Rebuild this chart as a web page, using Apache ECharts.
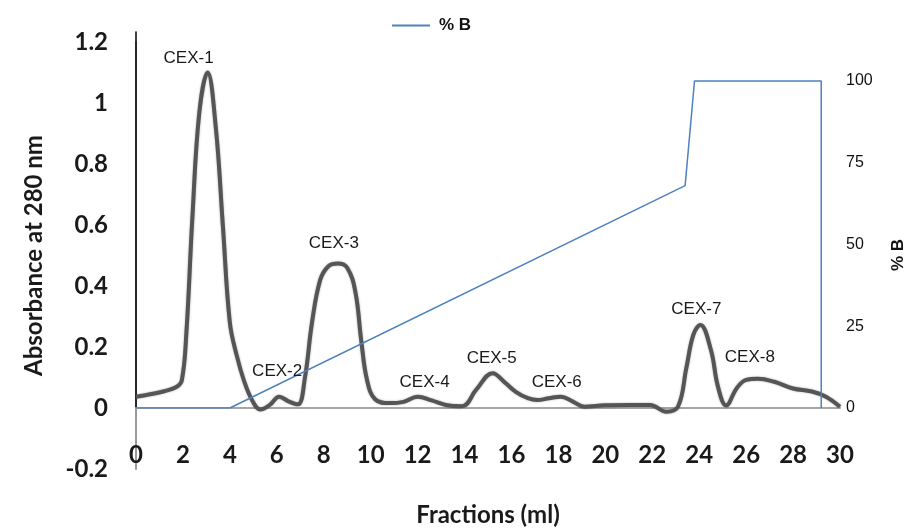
<!DOCTYPE html>
<html>
<head>
<meta charset="utf-8">
<title>CEX chromatogram</title>
<script src="https://cdn.jsdelivr.net/npm/echarts@6/dist/echarts.min.js"></script>
<style>
  html, body { margin: 0; padding: 0; background: #ffffff; }
  #chart { width: 910px; height: 531px; }
</style>
</head>
<body>
<div id="chart"></div>
<script>
// Elution volume (ml) and absorbance at 280 nm
const fractions = [0, 0.6, 1.2, 1.7, 1.95, 2.15, 2.4, 2.7, 3.05, 3.4, 3.7, 4.0, 4.3, 4.6, 4.95, 5.3,
  5.7, 6.1, 6.5, 6.9, 7.2, 7.5, 7.85, 8.2, 8.6, 9.0, 9.35, 9.6, 9.85, 10.2, 10.8, 11.4, 12.0,
  12.6, 13.2, 13.9, 14.5, 15.2, 15.7, 16.2, 16.7, 17.1, 17.6, 18.1, 18.6, 19.1, 20.0, 21.0,
  21.9, 22.6, 23.1, 23.45, 23.75, 24.05, 24.5, 24.8, 25.15, 25.6, 26.0, 26.5, 27.2, 28.0,
  28.8, 29.4, 30.0];
const absorbance = [0.037, 0.045, 0.055, 0.068, 0.09, 0.25, 0.62, 0.97, 1.10, 0.92, 0.6, 0.28,
  0.17, 0.09, 0.025, -0.005, 0.01, 0.037, 0.022, 0.012, 0.1, 0.28, 0.42, 0.465, 0.474, 0.46,
  0.38, 0.22, 0.09, 0.028, 0.016, 0.02, 0.037, 0.025, 0.01, 0.006, 0.06, 0.114, 0.085, 0.052,
  0.032, 0.026, 0.032, 0.037, 0.022, 0.004, 0.009, 0.01, 0.01, -0.012, 0.005, 0.13, 0.24,
  0.272, 0.19, 0.07, 0.008, 0.065, 0.092, 0.096, 0.086, 0.064, 0.054, 0.037, 0.004];

// Buffer B gradient program
const gradientMl = [0, 4, 23.4, 23.8, 29.2, 29.2];
const gradientB = [0, 0, 68, 100, 100, 0];

// Collected peaks
const peakNames = ['CEX-1', 'CEX-2', 'CEX-3', 'CEX-4', 'CEX-5', 'CEX-6', 'CEX-7', 'CEX-8'];
const peakAt = [3.05, 6.1, 8.6, 12.0, 15.2, 18.1, 24.05, 26.5];

// Axis ticks
const absTicks = { min: -0.2, max: 1.2, step: 0.2 };
const mlTicks = { min: 0, max: 30, step: 2 };
const bTicks = { min: 0, max: 115, step: 25 };

// Placement of each peak caption relative to its apex (px)
const captionOffsets = [[-19, -14], [-2, -25], [-4, -20], [7, -14], [-1, -15], [-4, -14], [-4, -16], [-8, -21]];

const absData = fractions.map((x, i) => [x, absorbance[i]]);
const gradData = gradientMl.map((x, i) => [x, gradientB[i]]);
const peakMarks = peakNames.map((name, i) => ({
  name: name,
  coord: [peakAt[i], absorbance[fractions.indexOf(peakAt[i])]],
  label: { offset: captionOffsets[i] }
}));

const boldFont = 'Lato';
const gradientColor = '#4f81bd';
const chart = echarts.init(document.getElementById('chart'), null, { renderer: 'canvas' });

chart.setOption({
  animation: false,
  backgroundColor: '#ffffff',
  legend: {
    data: [{ name: '% B', icon: 'rect' }],
    top: 12,
    left: 387,
    itemWidth: 38,
    itemHeight: 2,
    itemStyle: { color: gradientColor },
    textStyle: { fontFamily: 'Liberation Sans', fontWeight: 'bold', fontSize: 17, color: '#111', padding: [0, 0, 0, 4] }
  },
  grid: [
    { left: 136, right: 70, top: 42, bottom: 62, containLabel: false, outerBoundsMode: 'none' },
    { left: 136, right: 70, top: 32, bottom: 123, containLabel: false, outerBoundsMode: 'none' }
  ],
  xAxis: [
    {
      type: 'value', gridIndex: 0,
      min: mlTicks.min, max: mlTicks.max, interval: mlTicks.step,
      axisLine: { onZero: true, lineStyle: { color: '#a6a6a6', width: 2 } },
      axisTick: { show: false },
      splitLine: { show: false },
      axisLabel: { margin: -26, fontFamily: boldFont, fontWeight: 'bold', fontSize: 24, color: '#1a1a1a' },
      name: 'Fractions (ml)',
      nameLocation: 'middle',
      nameGap: 34,
      nameTextStyle: { fontFamily: boldFont, fontWeight: 'bold', fontSize: 24, color: '#1a1a1a' }
    },
    {
      type: 'value', gridIndex: 1,
      min: mlTicks.min, max: mlTicks.max, show: false
    }
  ],
  yAxis: [
    {
      type: 'value', gridIndex: 0,
      min: absTicks.min, max: absTicks.max, interval: absTicks.step,
      axisLine: { show: true, lineStyle: { color: '#9a9a9a', width: 2 } },
      axisTick: { show: false },
      splitLine: { show: false },
      axisLabel: { margin: 28, fontFamily: boldFont, fontWeight: 'bold', fontSize: 24, color: '#1a1a1a' },
      name: 'Absorbance at 280 nm',
      nameLocation: 'middle',
      nameGap: 90,
      nameTextStyle: { fontFamily: boldFont, fontWeight: 'bold', fontSize: 24, color: '#1a1a1a' }
    },
    {
      type: 'value', gridIndex: 1, position: 'right',
      min: bTicks.min, max: bTicks.max, interval: bTicks.step,
      axisLine: { show: true, lineStyle: { color: '#000000', width: 1.5 } },
      axisTick: { show: false },
      splitLine: { show: false },
      axisLabel: { margin: 6, showMaxLabel: false, fontFamily: 'Liberation Sans', fontSize: 16, color: '#111' },
      name: '% B',
      nameLocation: 'middle',
      nameRotate: 90,
      nameGap: 50,
      nameTextStyle: { fontFamily: 'Liberation Sans', fontWeight: 'bold', fontSize: 17, color: '#111', padding: [0, 70, 0, 0] }
    }
  ],
  series: [
    {
      name: 'Absorbance',
      type: 'line',
      xAxisIndex: 0, yAxisIndex: 0,
      data: absData,
      smooth: 0.4,
      symbol: 'none',
      z: 2,
      color: '#555555',
      lineStyle: { color: '#555555', width: 4, shadowColor: 'rgba(80,80,80,0.5)', shadowBlur: 2 },
      markPoint: {
        symbol: 'circle',
        symbolSize: 1,
        itemStyle: { color: 'rgba(0,0,0,0)' },
        label: { show: true, position: 'inside', formatter: '{b}', fontFamily: 'Liberation Sans', fontSize: 17, color: '#1a1a1a' },
        data: peakMarks
      }
    },
    {
      name: '% B',
      type: 'line',
      xAxisIndex: 1, yAxisIndex: 1,
      data: gradData,
      symbol: 'none',
      z: 3,
      color: gradientColor,
      lineStyle: { color: gradientColor, width: 1.5 }
    }
  ]
});
</script>
</body>
</html>
